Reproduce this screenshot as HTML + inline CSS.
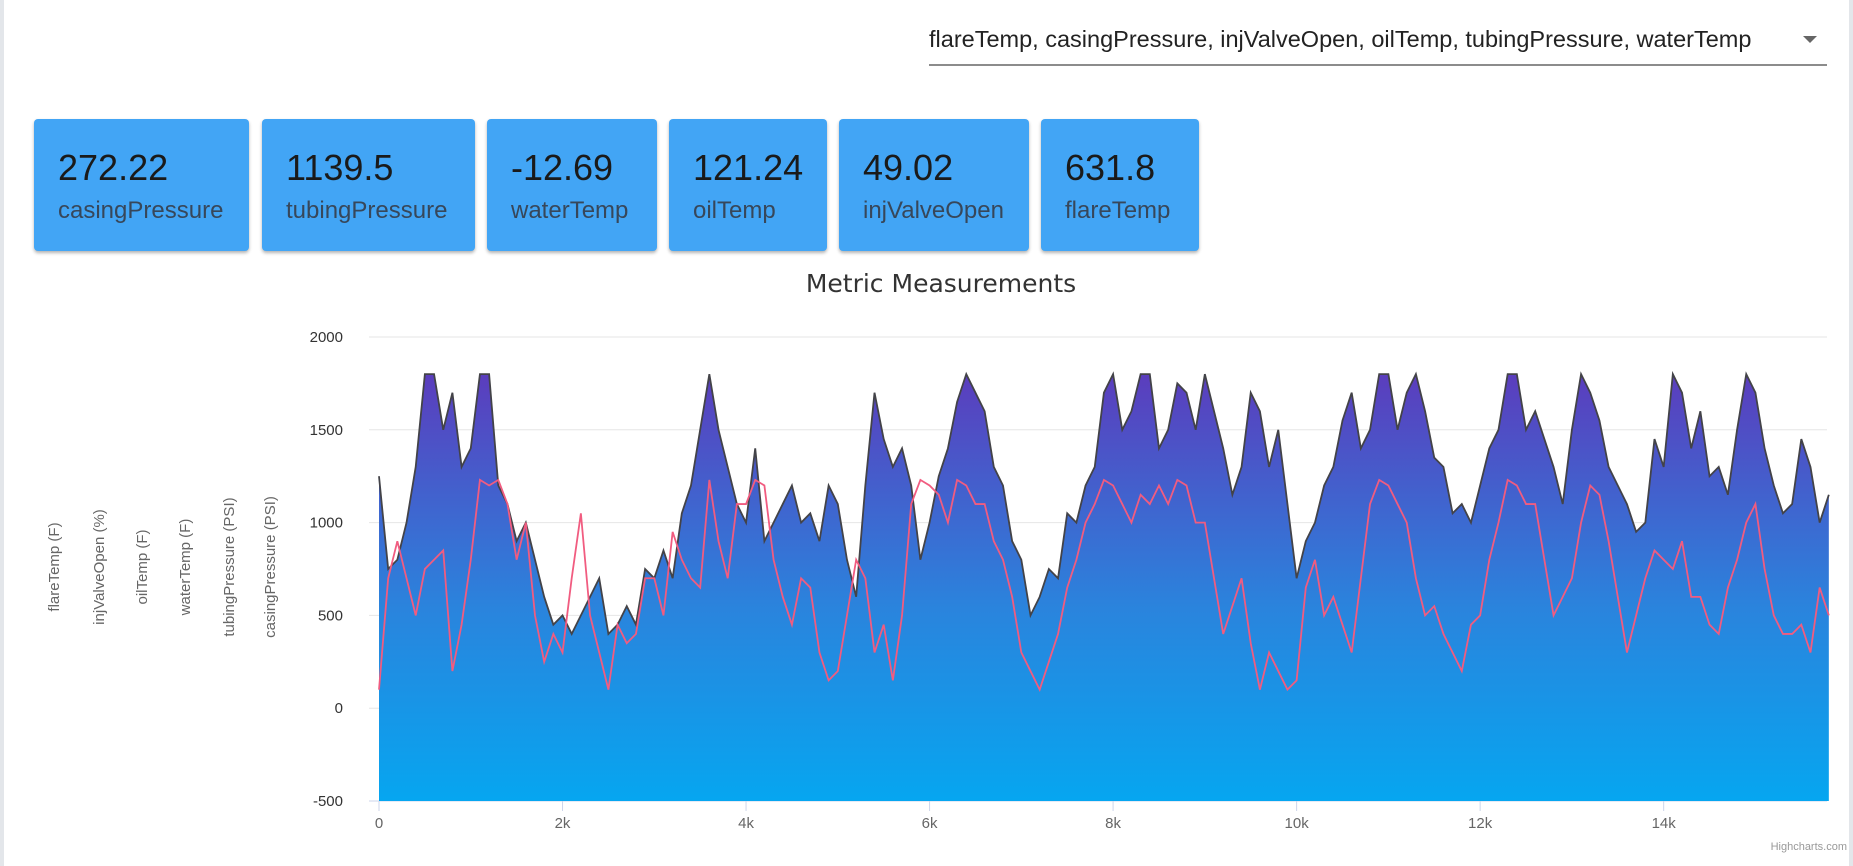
<!DOCTYPE html>
<html><head><meta charset="utf-8"><style>
body{margin:0;width:1853px;height:866px;background:#fff;font-family:"Liberation Sans",sans-serif;position:relative;overflow:hidden}
.edge{position:absolute;top:0;bottom:0;width:4px;background:#e3e6ea}
.dd{position:absolute;left:929px;top:22px;width:898px;height:42px;border-bottom:2px solid #8c8c8c}
.dd span{position:absolute;left:0;top:4px;font-size:23.5px;color:#222}
.dd i{position:absolute;right:10px;top:14px;width:0;height:0;border-left:7px solid transparent;border-right:7px solid transparent;border-top:7px solid #666}
.card{position:absolute;top:119px;height:132px;background:#42a5f5;border-radius:4px;box-shadow:0 2px 3px rgba(0,0,0,.3)}
.card .v{position:absolute;left:24px;top:28px;font-size:36px;color:#1a1a1a}
.card .l{position:absolute;left:24px;top:78px;font-size:24px;color:#37475a}
</style></head><body>
<div class="edge" style="left:0"></div>
<div class="edge" style="left:1849px"></div>
<div class="dd"><span>flareTemp, casingPressure, injValveOpen, oilTemp, tubingPressure, waterTemp</span><i></i></div>
<div class="card" style="left:34px;width:215px"><div class="v">272.22</div><div class="l">casingPressure</div></div>
<div class="card" style="left:262px;width:213px"><div class="v">1139.5</div><div class="l">tubingPressure</div></div>
<div class="card" style="left:487px;width:170px"><div class="v">-12.69</div><div class="l">waterTemp</div></div>
<div class="card" style="left:669px;width:158px"><div class="v">121.24</div><div class="l">oilTemp</div></div>
<div class="card" style="left:839px;width:190px"><div class="v">49.02</div><div class="l">injValveOpen</div></div>
<div class="card" style="left:1041px;width:158px"><div class="v">631.8</div><div class="l">flareTemp</div></div>
<svg id="c" width="1853" height="866" style="position:absolute;left:0;top:0">
<defs><linearGradient id="g" x1="0" y1="0" x2="0" y2="1"><stop offset="0" stop-color="#5b3dbd"/><stop offset="0.55" stop-color="#2a84dd"/><stop offset="1" stop-color="#06a6f0"/></linearGradient></defs>
<text x="941" y="292" text-anchor="middle" font-size="25" fill="#333" font-family="DejaVu Sans,sans-serif">Metric Measurements</text>
</svg>
<script>
const xStep=100;
const tubing=[1250,750,800,1000,1300,1800,1800,1500,1700,1300,1400,1800,1800,1200,1100,900,1000,800,600,450,500,400,500,600,700,400,450,550,450,750,700,850,700,1050,1200,1500,1800,1500,1300,1100,1000,1400,900,1000,1100,1200,1000,1050,900,1200,1100,800,600,1200,1700,1450,1300,1400,1200,800,1000,1250,1400,1650,1800,1700,1600,1300,1200,900,800,500,600,750,700,1050,1000,1200,1300,1700,1800,1500,1600,1800,1800,1400,1500,1750,1700,1500,1800,1600,1400,1150,1300,1700,1600,1300,1500,1100,700,900,1000,1200,1300,1550,1700,1400,1500,1800,1800,1500,1700,1800,1600,1350,1300,1050,1100,1000,1200,1400,1500,1800,1800,1500,1600,1450,1300,1100,1500,1800,1700,1550,1300,1200,1100,950,1000,1450,1300,1800,1700,1400,1600,1250,1300,1150,1500,1800,1700,1400,1200,1050,1100,1450,1300,1000,1150];
const flare=[100,700,900,700,500,750,800,850,200,450,800,1230,1200,1230,1100,800,1000,500,250,400,300,700,1050,500,300,100,450,350,400,700,700,500,950,800,700,650,1230,900,700,1100,1100,1230,1200,800,600,450,700,650,300,150,200,500,800,700,300,450,150,500,1100,1230,1200,1150,1000,1230,1200,1100,1100,900,800,600,300,200,100,250,400,650,800,1000,1100,1230,1200,1100,1000,1150,1100,1200,1100,1230,1200,1000,1000,700,400,550,700,350,100,300,200,100,150,650,800,500,600,450,300,700,1100,1230,1200,1100,1000,700,500,550,400,300,200,450,500,800,1000,1230,1200,1100,1100,800,500,600,700,1000,1200,1150,900,600,300,500,700,850,800,750,900,600,600,450,400,650,800,1000,1100,750,500,400,400,450,300,650,500];
const yTicks=[-500,0,500,1000,1500,2000];
const xTicks=[0,2000,4000,6000,8000,10000,12000,14000];
const xTickLabels=["0","2k","4k","6k","8k","10k","12k","14k"];
const yTitles=["flareTemp (F)","injValveOpen (%)","oilTemp (F)","waterTemp (F)","tubingPressure (PSI)","casingPressure (PSI)"];
const X0=379,X1=1827,XMAX=15780,Y0=801,Y1=337;
const sx=v=>X0+(v)/XMAX*(X1-X0);
const sy=v=>Y0-(v+500)/2500*(Y0-Y1);
const svg=document.getElementById('c');const NS='http://www.w3.org/2000/svg';
function mk(t,a){const e=document.createElementNS(NS,t);for(const k in a)e.setAttribute(k,a[k]);svg.appendChild(e);return e;}
yTicks.forEach(v=>{
 const l=mk('line',{x1:X0-10,x2:X1,y1:sy(v),y2:sy(v),stroke:v===-500?'#ccd6eb':'#e6e6e6'});
 
 
 const t=mk('text',{x:343,y:sy(v)+5,'text-anchor':'end','font-size':15,fill:'#333'});t.textContent=v;
 
 
});
xTicks.forEach((v,i)=>{
 const l=mk('line',{x1:sx(v),x2:sx(v),y1:Y0,y2:Y0+10,stroke:'#ccd6eb'});
 
 
 const t=mk('text',{x:sx(v),y:Y0+27,'text-anchor':'middle','font-size':15,fill:'#666'});t.textContent=xTickLabels[i];
 
 
});
const tx=[59,104,147,190,234,275];
yTitles.forEach((s,i)=>{
 const t=mk('text',{x:tx[i],y:567,'text-anchor':'middle','font-size':15,fill:'#666',transform:`rotate(-90 ${tx[i]} 567)`});t.textContent=s;
 
 
});
let dp=tubing.map((v,i)=>`${sx(i*xStep)},${sy(v)}`).join(' L');
const area=mk('path',{d:`M${sx(0)},${sy(-500)} L${dp} L${sx((tubing.length-1)*xStep)},${sy(-500)} Z`,fill:'url(#g)'});


const ln=mk('path',{d:'M'+dp,fill:'none',stroke:'#434348','stroke-width':1.8});


const fp=flare.map((v,i)=>`${sx(i*xStep)},${sy(v)}`).join(' L');
const fl=mk('path',{d:'M'+fp,fill:'none',stroke:'#f15c80','stroke-width':1.8});


const cr=mk('text',{x:1847,y:850,'text-anchor':'end','font-size':11,fill:'#999'});cr.textContent='Highcharts.com';


</script>
</body></html>
